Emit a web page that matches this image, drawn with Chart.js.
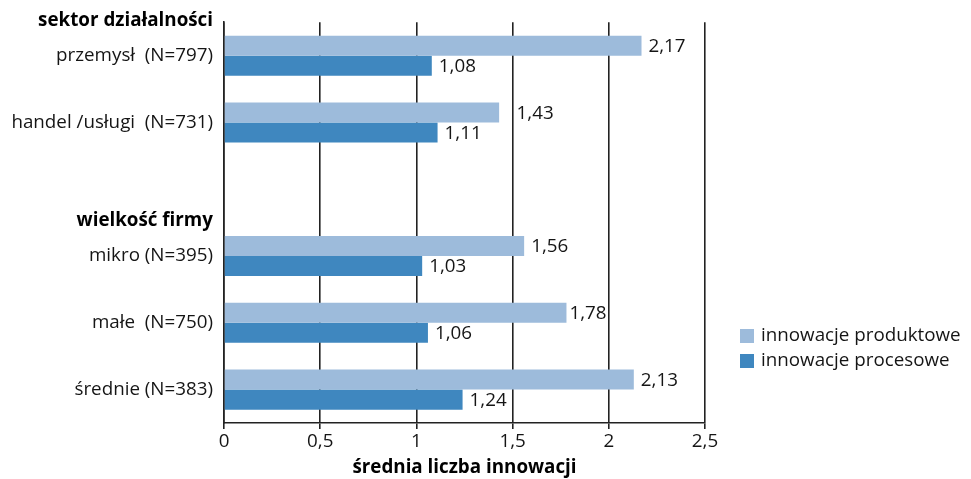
<!DOCTYPE html>
<html lang="pl">
<head>
<meta charset="utf-8">
<title>Średnia liczba innowacji</title>
<script src="https://cdn.jsdelivr.net/npm/chart.js@4/dist/chart.umd.min.js"></script>
<style>
  html, body { margin: 0; padding: 0; background: #ffffff; }
  #wrap { width: 971px; height: 479px; position: relative; }
</style>
</head>
<body>
<div id="wrap"><canvas id="chart" width="971" height="479"></canvas></div>
<script>
// Row labels (empty row separates the two groups)
const categories = [
  'przemysł  (N=797)',
  'handel /usługi  (N=731)',
  '',
  'mikro (N=395)',
  'małe  (N=750)',
  'średnie (N=383)'
];
// Group headings and the row each group starts at
const groupHeadings = ['sektor działalności', 'wielkość firmy'];
const groupStartRows = [0, 3];

const productInnovations = [2.17, 1.43, null, 1.56, 1.78, 2.13];
const processInnovations = [1.08, 1.11, null, 1.03, 1.06, 1.24];

const seriesNames = ['innowacje produktowe', 'innowacje procesowe'];
const xTicks = [0, 0.5, 1, 1.5, 2, 2.5];
const axisTitle = 'średnia liczba innowacji';

const FONT = "'Open Sans', 'DejaVu Sans', sans-serif";
const FS = 18.8;
const INK = '#151515';
const LIGHT = '#9dbbdb';
const DARK = '#3f87bf';

const fmt = v => String(v).replace('.', ',');

// Value labels to the right of each bar, nudged so they don't sit on a gridline
const valueLabels = {
  id: 'valueLabels',
  afterDatasetsDraw(chart) {
    const { ctx, scales: { x } } = chart;
    const gridX = xTicks.map(t => x.getPixelForValue(t));
    ctx.save();
    ctx.font = `${FS}px ${FONT}`;
    ctx.fillStyle = INK;
    ctx.textBaseline = 'middle';
    ctx.textAlign = 'left';
    chart.data.datasets.forEach((ds, di) => {
      chart.getDatasetMeta(di).data.forEach((bar, i) => {
        const v = ds.data[i];
        if (v == null) return;
        const txt = v.toFixed(2).replace('.', ',');
        const w = ctx.measureText(txt).width;
        let left = bar.x + 7;
        const hit = gridX.find(g => g > left - 2 && g < left + w + 2);
        if (hit !== undefined) {
          const tight = bar.x + 3;
          if (!(hit > tight - 2 && hit < tight + w + 2)) left = tight;
          else left = hit + 4;
        }
        ctx.fillText(txt, left, bar.y + 1);
      });
    });
    ctx.restore();
  }
};

// Bold group headings above the first row of each group
const headings = {
  id: 'headings',
  afterDraw(chart) {
    const { ctx, scales: { y }, chartArea } = chart;
    const step = (chartArea.bottom - chartArea.top) / categories.length;
    ctx.save();
    ctx.font = `bold ${FS}px ${FONT}`;
    ctx.fillStyle = '#000';
    ctx.textAlign = 'right';
    ctx.textBaseline = 'middle';
    groupHeadings.forEach((h, k) => {
      const yy = y.getPixelForValue(groupStartRows[k]) - step / 2 - 2;
      ctx.fillText(h, chartArea.left - 11, yy);
    });
    ctx.restore();
  }
};

// Legend drawn at the lower right
const sideLegend = {
  id: 'sideLegend',
  afterDraw(chart) {
    const { ctx } = chart;
    ctx.save();
    ctx.font = `${FS}px ${FONT}`;
    ctx.textBaseline = 'middle';
    ctx.textAlign = 'left';
    chart.data.datasets.forEach((ds, i) => {
      const cy = 336 + i * 25;
      ctx.fillStyle = ds.backgroundColor;
      ctx.fillRect(740, cy - 7, 14, 14);
      ctx.fillStyle = INK;
      ctx.fillText(ds.label, 761, cy);
    });
    ctx.restore();
  }
};

new Chart(document.getElementById('chart'), {
  type: 'bar',
  data: {
    labels: categories,
    datasets: [
      { label: seriesNames[0], data: productInnovations, backgroundColor: LIGHT },
      { label: seriesNames[1], data: processInnovations, backgroundColor: DARK }
    ]
  },
  options: {
    indexAxis: 'y',
    responsive: false,
    animation: false,
    devicePixelRatio: 1,
    categoryPercentage: 0.6,
    barPercentage: 1.0,
    layout: { padding: { top: 20, right: 266, left: 0, bottom: 0 } },
    plugins: {
      legend: { display: false },
      tooltip: { enabled: false }
    },
    scales: {
      x: {
        min: 0,
        max: 2.5,
        afterBuildTicks(scale) { scale.ticks = xTicks.map(v => ({ value: v })); },
        afterFit(scale) { scale.height = 56; },
        ticks: {
          color: INK,
          font: { family: FONT, size: FS },
          padding: 1,
          maxRotation: 0,
          callback: v => fmt(v)
        },
        grid: {
          color: '#222',
          lineWidth: 1.6,
          drawOnChartArea: true,
          drawTicks: true,
          tickLength: 6
        },
        border: { display: true, color: '#222', width: 1.6 },
        title: {
          display: true,
          text: axisTitle,
          color: '#000',
          font: { family: FONT, size: FS, weight: 'bold' },
          padding: { top: 0, bottom: 0 }
        }
      },
      y: {
        afterFit(scale) { scale.width = 224; },
        ticks: {
          color: INK,
          font: { family: FONT, size: FS },
          padding: 11
        },
        grid: { display: false, drawTicks: false },
        border: { display: true, color: '#222', width: 1.6 }
      }
    }
  },
  plugins: [valueLabels, headings, sideLegend]
});
</script>
</body>
</html>
